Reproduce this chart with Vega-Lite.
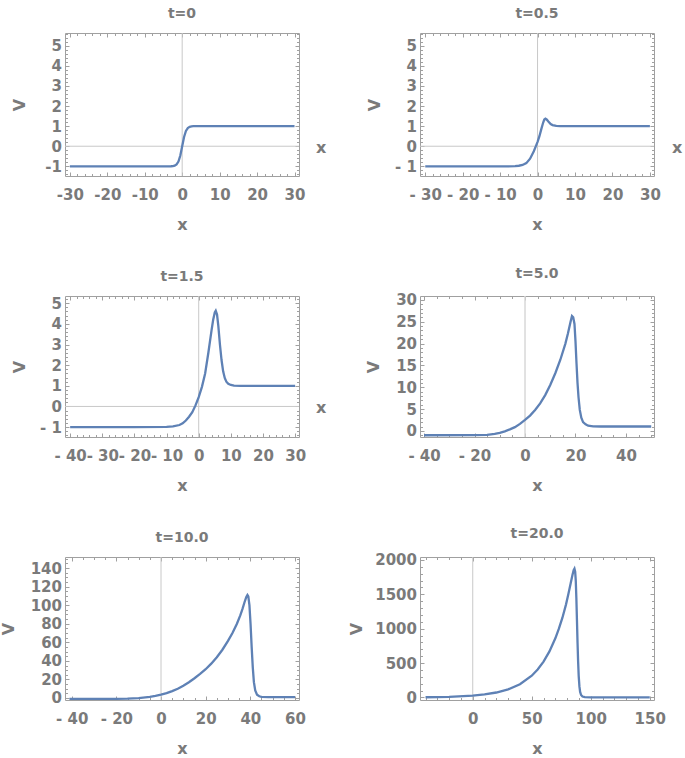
{
  "$schema": "https://vega.github.io/schema/vega-lite/v6.json",
  "padding": {"left": -1, "top": 6, "right": 2, "bottom": 2},
  "background": "white",
  "config": {
    "view": {"stroke": "#a0a0a0", "strokeWidth": 1},
    "axis": {
      "labelFont": "DejaVu Sans", "labelFontSize": 15, "labelFontWeight": "bold", "labelColor": "#7a7a7a",
      "titleFont": "DejaVu Sans", "titleFontSize": 16, "titleFontWeight": "bold", "titleColor": "#7a7a7a",
      "domain": false, "grid": false, "tickColor": "#a0a0a0", "tickWidth": 1,
      "labelFlush": false, "labelOverlap": false
    },
    "axisX": {"titlePadding": 14, "labelPadding": 15},
    "axisY": {"titlePadding": 15, "labelPadding": 7.5},
    "title": {"font": "DejaVu Sans", "fontSize": 14, "fontWeight": "bold", "color": "#7a7a7a", "offset": 12},
    "text": {"font": "DejaVu Sans", "fontSize": 16, "fontWeight": "bold", "color": "#7a7a7a"}
  },
  "datasets": {
    "p1": [
      {"x": -30, "v": -1}, {"x": -10, "v": -1}, {"x": -5, "v": -0.9999}, {"x": -4, "v": -0.999}, {"x": -3, "v": -0.995},
      {"x": -2.5, "v": -0.987}, {"x": -2, "v": -0.964}, {"x": -1.5, "v": -0.905}, {"x": -1, "v": -0.762}, {"x": -0.5, "v": -0.462},
      {"x": 0, "v": 0}, {"x": 0.5, "v": 0.462}, {"x": 1, "v": 0.762}, {"x": 1.5, "v": 0.905}, {"x": 2, "v": 0.964},
      {"x": 2.5, "v": 0.987}, {"x": 3, "v": 0.995}, {"x": 4, "v": 0.999}, {"x": 5, "v": 1}, {"x": 10, "v": 1}, {"x": 30, "v": 1}
    ],
    "p2": [
      {"x": -30, "v": -1}, {"x": -8, "v": -1}, {"x": -6, "v": -0.99}, {"x": -5, "v": -0.97}, {"x": -4, "v": -0.93},
      {"x": -3, "v": -0.84}, {"x": -2, "v": -0.62}, {"x": -1, "v": -0.25}, {"x": -0.5, "v": -0.02}, {"x": 0, "v": 0.22},
      {"x": 0.5, "v": 0.5}, {"x": 1, "v": 0.85}, {"x": 1.5, "v": 1.18}, {"x": 1.8, "v": 1.33}, {"x": 2.1, "v": 1.37},
      {"x": 2.5, "v": 1.32}, {"x": 3, "v": 1.2}, {"x": 3.5, "v": 1.1}, {"x": 4, "v": 1.05}, {"x": 5, "v": 1.01},
      {"x": 6, "v": 1}, {"x": 30, "v": 1}
    ],
    "p3": [
      {"x": -40, "v": -1}, {"x": -20, "v": -1}, {"x": -10, "v": -0.99}, {"x": -8, "v": -0.97}, {"x": -6, "v": -0.9},
      {"x": -5, "v": -0.82}, {"x": -4, "v": -0.68}, {"x": -3, "v": -0.5}, {"x": -2, "v": -0.28}, {"x": -1, "v": 0.05},
      {"x": 0, "v": 0.45}, {"x": 1, "v": 0.95}, {"x": 2, "v": 1.6}, {"x": 3, "v": 2.6}, {"x": 4, "v": 3.7},
      {"x": 4.5, "v": 4.2}, {"x": 5, "v": 4.55}, {"x": 5.3, "v": 4.63}, {"x": 5.7, "v": 4.45}, {"x": 6.1, "v": 3.9},
      {"x": 6.6, "v": 3.0}, {"x": 7.1, "v": 2.25}, {"x": 7.6, "v": 1.7}, {"x": 8.1, "v": 1.38}, {"x": 8.6, "v": 1.2},
      {"x": 9.2, "v": 1.1}, {"x": 10, "v": 1.04}, {"x": 11, "v": 1.01}, {"x": 13, "v": 1}, {"x": 30, "v": 1}
    ],
    "p4": [
      {"x": -40, "v": -1}, {"x": -20, "v": -0.98}, {"x": -15, "v": -0.9}, {"x": -12, "v": -0.7}, {"x": -10, "v": -0.45},
      {"x": -8, "v": -0.1}, {"x": -6, "v": 0.35}, {"x": -4, "v": 0.85}, {"x": -2, "v": 1.6}, {"x": 0, "v": 2.5},
      {"x": 2, "v": 3.5}, {"x": 4, "v": 4.8}, {"x": 6, "v": 6.3}, {"x": 8, "v": 8.2}, {"x": 10, "v": 10.5},
      {"x": 12, "v": 13.2}, {"x": 14, "v": 16.3}, {"x": 16, "v": 20.0}, {"x": 17, "v": 22.3}, {"x": 18, "v": 24.9},
      {"x": 18.6, "v": 26.3}, {"x": 19.1, "v": 26.0}, {"x": 19.6, "v": 24.5}, {"x": 20.0, "v": 20.5}, {"x": 20.4, "v": 15.5},
      {"x": 20.8, "v": 11}, {"x": 21.2, "v": 7.7}, {"x": 21.7, "v": 4.8}, {"x": 22.3, "v": 3.0}, {"x": 23, "v": 2.0},
      {"x": 24, "v": 1.5}, {"x": 25, "v": 1.2}, {"x": 27, "v": 1.05}, {"x": 30, "v": 1}, {"x": 50, "v": 1}
    ],
    "p5": [
      {"x": -41, "v": -1}, {"x": -20, "v": -0.95}, {"x": -15, "v": -0.7}, {"x": -10, "v": -0.1}, {"x": -5, "v": 1.2},
      {"x": -2.5, "v": 2.2}, {"x": 0, "v": 3.5}, {"x": 2.5, "v": 5.2}, {"x": 5, "v": 7.4}, {"x": 7.5, "v": 10.0},
      {"x": 10, "v": 13.2}, {"x": 12.5, "v": 17}, {"x": 15, "v": 21.3}, {"x": 17.5, "v": 26}, {"x": 20, "v": 31},
      {"x": 22.5, "v": 37}, {"x": 25, "v": 44}, {"x": 27.5, "v": 52}, {"x": 30, "v": 61.5}, {"x": 32, "v": 70},
      {"x": 34, "v": 80}, {"x": 35.5, "v": 89}, {"x": 36.5, "v": 96}, {"x": 37.5, "v": 104}, {"x": 38.2, "v": 109},
      {"x": 38.7, "v": 111}, {"x": 39.1, "v": 109.5}, {"x": 39.6, "v": 100}, {"x": 40.1, "v": 80}, {"x": 40.6, "v": 55},
      {"x": 41.1, "v": 33}, {"x": 41.6, "v": 17}, {"x": 42.2, "v": 8}, {"x": 43, "v": 3.5}, {"x": 44, "v": 1.8},
      {"x": 45, "v": 1.2}, {"x": 48, "v": 1.0}, {"x": 60, "v": 1.0}
    ],
    "p6": [
      {"x": -40, "v": 2}, {"x": -20, "v": 8}, {"x": 0, "v": 26}, {"x": 10, "v": 43}, {"x": 20, "v": 71},
      {"x": 30, "v": 116}, {"x": 40, "v": 192}, {"x": 50, "v": 316}, {"x": 55, "v": 406}, {"x": 60, "v": 521},
      {"x": 65, "v": 669}, {"x": 70, "v": 860}, {"x": 73, "v": 1000}, {"x": 76, "v": 1160}, {"x": 79, "v": 1350},
      {"x": 81, "v": 1500}, {"x": 83, "v": 1660}, {"x": 84.5, "v": 1780}, {"x": 85.5, "v": 1850}, {"x": 86.2, "v": 1872},
      {"x": 86.8, "v": 1830}, {"x": 87.3, "v": 1700}, {"x": 87.8, "v": 1450}, {"x": 88.3, "v": 1130}, {"x": 88.8, "v": 800},
      {"x": 89.3, "v": 520}, {"x": 89.8, "v": 310}, {"x": 90.4, "v": 160}, {"x": 91, "v": 80}, {"x": 91.8, "v": 35},
      {"x": 93, "v": 12}, {"x": 95, "v": 4}, {"x": 100, "v": 1}, {"x": 150, "v": 1}
    ]
  },
  "columns": 2,
  "bounds": "flush",
  "spacing": {"row": 120, "column": 121},
  "concat": [
    {
      "width": 234, "height": 143, "title": "t=0",
      "resolve": {"axis": {"x": "independent", "y": "independent"}},
      "layer": [
        {"data": {"values": [{}]}, "mark": {"type": "rule", "color": "#c8c8c8", "strokeWidth": 1}, "encoding": {"x": {"datum": 0, "type": "quantitative", "axis": null}}},
        {"data": {"values": [{}]}, "mark": {"type": "rule", "color": "#c8c8c8", "strokeWidth": 1}, "encoding": {"y": {"datum": 0, "type": "quantitative", "axis": null}}},
        {"data": {"name": "p1"}, "mark": {"type": "line", "color": "#5E81B5", "strokeWidth": 2.3},
         "encoding": {
           "x": {"field": "x", "type": "quantitative", "scale": {"domain": [-31.3, 31.2], "nice": false, "zero": false},
                 "axis": {"orient": "bottom", "values": [-30, -20, -10, 0, 10, 20, 30], "title": "x", "tickSize": -4, "labelExpr": "replace(datum.label, '−', '-')"}},
           "y": {"field": "v", "type": "quantitative", "scale": {"domain": [-1.48, 5.63], "nice": false, "zero": false},
                 "axis": {"orient": "left", "values": [-1, 0, 1, 2, 3, 4, 5], "title": "V", "titlePadding": 17, "tickSize": -4, "labelExpr": "replace(datum.label, '−', '-')"}}}},
        {"data": {"name": "p1"}, "mark": {"type": "line", "opacity": 0},
         "encoding": {
           "x": {"field": "x", "type": "quantitative", "axis": {"orient": "top", "values": [-30, -20, -10, 0, 10, 20, 30], "labels": false, "title": null, "tickSize": -4}},
           "y": {"field": "v", "type": "quantitative", "axis": {"orient": "right", "values": [-1, 0, 1, 2, 3, 4, 5], "labels": false, "title": null, "tickSize": -4}}}},
        {"data": {"name": "p1"}, "mark": {"type": "line", "opacity": 0},
         "encoding": {
           "x": {"field": "x", "type": "quantitative", "axis": {"orient": "bottom", "tickCount": 30, "labels": false, "title": null, "tickSize": -2.5}},
           "y": {"field": "v", "type": "quantitative", "axis": {"orient": "left", "tickCount": 35, "labels": false, "title": null, "tickSize": -2.5}}}},
        {"data": {"name": "p1"}, "mark": {"type": "line", "opacity": 0},
         "encoding": {
           "x": {"field": "x", "type": "quantitative", "axis": {"orient": "top", "tickCount": 30, "labels": false, "title": null, "tickSize": -2.5}},
           "y": {"field": "v", "type": "quantitative", "axis": {"orient": "right", "tickCount": 35, "labels": false, "title": null, "tickSize": -2.5}}}},
        {"data": {"values": [{}]}, "mark": {"type": "text", "text": "x", "align": "left", "baseline": "middle", "dx": 17, "dy": 2},
         "encoding": {"x": {"datum": 31.2, "type": "quantitative", "axis": null}, "y": {"datum": 0, "type": "quantitative", "axis": null}}}
      ]
    },
    {
      "width": 234, "height": 143, "title": "t=0.5",
      "resolve": {"axis": {"x": "independent", "y": "independent"}},
      "layer": [
        {"data": {"values": [{}]}, "mark": {"type": "rule", "color": "#c8c8c8", "strokeWidth": 1}, "encoding": {"x": {"datum": 0, "type": "quantitative", "axis": null}}},
        {"data": {"values": [{}]}, "mark": {"type": "rule", "color": "#c8c8c8", "strokeWidth": 1}, "encoding": {"y": {"datum": 0, "type": "quantitative", "axis": null}}},
        {"data": {"name": "p2"}, "mark": {"type": "line", "color": "#5E81B5", "strokeWidth": 2.3},
         "encoding": {
           "x": {"field": "x", "type": "quantitative", "scale": {"domain": [-31.4, 31.1], "nice": false, "zero": false},
                 "axis": {"orient": "bottom", "values": [-30, -20, -10, 0, 10, 20, 30], "title": "x", "tickSize": -4, "labelExpr": "datum.value < 0 ? '- ' + (-datum.value) : datum.label"}},
           "y": {"field": "v", "type": "quantitative", "scale": {"domain": [-1.48, 5.63], "nice": false, "zero": false},
                 "axis": {"orient": "left", "values": [-1, 0, 1, 2, 3, 4, 5], "title": "V", "titlePadding": 12, "tickSize": -4, "labelExpr": "datum.value < 0 ? '- ' + (-datum.value) : datum.label"}}}},
        {"data": {"name": "p2"}, "mark": {"type": "line", "opacity": 0},
         "encoding": {
           "x": {"field": "x", "type": "quantitative", "axis": {"orient": "top", "values": [-30, -20, -10, 0, 10, 20, 30], "labels": false, "title": null, "tickSize": -4}},
           "y": {"field": "v", "type": "quantitative", "axis": {"orient": "right", "values": [-1, 0, 1, 2, 3, 4, 5], "labels": false, "title": null, "tickSize": -4}}}},
        {"data": {"name": "p2"}, "mark": {"type": "line", "opacity": 0},
         "encoding": {
           "x": {"field": "x", "type": "quantitative", "axis": {"orient": "bottom", "tickCount": 30, "labels": false, "title": null, "tickSize": -2.5}},
           "y": {"field": "v", "type": "quantitative", "axis": {"orient": "left", "tickCount": 35, "labels": false, "title": null, "tickSize": -2.5}}}},
        {"data": {"name": "p2"}, "mark": {"type": "line", "opacity": 0},
         "encoding": {
           "x": {"field": "x", "type": "quantitative", "axis": {"orient": "top", "tickCount": 30, "labels": false, "title": null, "tickSize": -2.5}},
           "y": {"field": "v", "type": "quantitative", "axis": {"orient": "right", "tickCount": 35, "labels": false, "title": null, "tickSize": -2.5}}}},
        {"data": {"values": [{}]}, "mark": {"type": "text", "text": "x", "align": "left", "baseline": "middle", "dx": 18, "dy": 2},
         "encoding": {"x": {"datum": 31.1, "type": "quantitative", "axis": null}, "y": {"datum": 0, "type": "quantitative", "axis": null}}}
      ]
    },
    {
      "width": 234, "height": 141, "title": "t=1.5",
      "resolve": {"axis": {"x": "independent", "y": "independent"}},
      "layer": [
        {"data": {"values": [{}]}, "mark": {"type": "rule", "color": "#c8c8c8", "strokeWidth": 1}, "encoding": {"x": {"datum": 0, "type": "quantitative", "axis": null}}},
        {"data": {"values": [{}]}, "mark": {"type": "rule", "color": "#c8c8c8", "strokeWidth": 1}, "encoding": {"y": {"datum": 0, "type": "quantitative", "axis": null}}},
        {"data": {"name": "p3"}, "mark": {"type": "line", "color": "#5E81B5", "strokeWidth": 2.3},
         "encoding": {
           "x": {"field": "x", "type": "quantitative", "scale": {"domain": [-41.6, 31.2], "nice": false, "zero": false},
                 "axis": {"orient": "bottom", "values": [-40, -30, -20, -10, 0, 10, 20, 30], "title": "x", "tickSize": -4, "labelExpr": "datum.value < 0 ? '- ' + (-datum.value) : datum.label"}},
           "y": {"field": "v", "type": "quantitative", "scale": {"domain": [-1.48, 5.35], "nice": false, "zero": false},
                 "axis": {"orient": "left", "values": [-1, 0, 1, 2, 3, 4, 5], "title": "V", "titlePadding": 12, "tickSize": -4, "labelExpr": "datum.value < 0 ? '- ' + (-datum.value) : datum.label"}}}},
        {"data": {"name": "p3"}, "mark": {"type": "line", "opacity": 0},
         "encoding": {
           "x": {"field": "x", "type": "quantitative", "axis": {"orient": "top", "values": [-40, -30, -20, -10, 0, 10, 20, 30], "labels": false, "title": null, "tickSize": -4}},
           "y": {"field": "v", "type": "quantitative", "axis": {"orient": "right", "values": [-1, 0, 1, 2, 3, 4, 5], "labels": false, "title": null, "tickSize": -4}}}},
        {"data": {"name": "p3"}, "mark": {"type": "line", "opacity": 0},
         "encoding": {
           "x": {"field": "x", "type": "quantitative", "axis": {"orient": "bottom", "tickCount": 35, "labels": false, "title": null, "tickSize": -2.5}},
           "y": {"field": "v", "type": "quantitative", "axis": {"orient": "left", "tickCount": 34, "labels": false, "title": null, "tickSize": -2.5}}}},
        {"data": {"name": "p3"}, "mark": {"type": "line", "opacity": 0},
         "encoding": {
           "x": {"field": "x", "type": "quantitative", "axis": {"orient": "top", "tickCount": 35, "labels": false, "title": null, "tickSize": -2.5}},
           "y": {"field": "v", "type": "quantitative", "axis": {"orient": "right", "tickCount": 34, "labels": false, "title": null, "tickSize": -2.5}}}},
        {"data": {"values": [{}]}, "mark": {"type": "text", "text": "x", "align": "left", "baseline": "middle", "dx": 17, "dy": 2},
         "encoding": {"x": {"datum": 31.2, "type": "quantitative", "axis": null}, "y": {"datum": 0, "type": "quantitative", "axis": null}}}
      ]
    },
    {
      "width": 234, "height": 141, "title": "t=5.0",
      "resolve": {"axis": {"x": "independent", "y": "independent"}},
      "layer": [
        {"data": {"values": [{}]}, "mark": {"type": "rule", "color": "#d8d8d8", "strokeWidth": 1.5}, "encoding": {"x": {"datum": 0, "type": "quantitative", "axis": null}}},
        {"data": {"name": "p4"}, "mark": {"type": "line", "color": "#5E81B5", "strokeWidth": 2.3},
         "encoding": {
           "x": {"field": "x", "type": "quantitative", "scale": {"domain": [-41.6, 51.1], "nice": false, "zero": false},
                 "axis": {"orient": "bottom", "values": [-40, -20, 0, 20, 40], "title": "x", "tickSize": -4, "labelExpr": "datum.value < 0 ? '- ' + (-datum.value) : datum.label"}},
           "y": {"field": "v", "type": "quantitative", "scale": {"domain": [-1.4, 30.9], "nice": false, "zero": false},
                 "axis": {"orient": "left", "values": [0, 5, 10, 15, 20, 25, 30], "title": "V", "titlePadding": 14, "tickSize": -4}}}},
        {"data": {"name": "p4"}, "mark": {"type": "line", "opacity": 0},
         "encoding": {
           "x": {"field": "x", "type": "quantitative", "axis": {"orient": "top", "values": [-40, -20, 0, 20, 40], "labels": false, "title": null, "tickSize": -4}},
           "y": {"field": "v", "type": "quantitative", "axis": {"orient": "right", "values": [0, 5, 10, 15, 20, 25, 30], "labels": false, "title": null, "tickSize": -4}}}},
        {"data": {"name": "p4"}, "mark": {"type": "line", "opacity": 0},
         "encoding": {
           "x": {"field": "x", "type": "quantitative", "axis": {"orient": "bottom", "tickCount": 20, "labels": false, "title": null, "tickSize": -2.5}},
           "y": {"field": "v", "type": "quantitative", "axis": {"orient": "left", "tickCount": 32, "labels": false, "title": null, "tickSize": -2.5}}}},
        {"data": {"name": "p4"}, "mark": {"type": "line", "opacity": 0},
         "encoding": {
           "x": {"field": "x", "type": "quantitative", "axis": {"orient": "top", "tickCount": 20, "labels": false, "title": null, "tickSize": -2.5}},
           "y": {"field": "v", "type": "quantitative", "axis": {"orient": "right", "tickCount": 32, "labels": false, "title": null, "tickSize": -2.5}}}}
      ]
    },
    {
      "width": 234, "height": 143, "title": "t=10.0",
      "resolve": {"axis": {"x": "independent", "y": "independent"}},
      "layer": [
        {"data": {"values": [{}]}, "mark": {"type": "rule", "color": "#c8c8c8", "strokeWidth": 1}, "encoding": {"x": {"datum": 0, "type": "quantitative", "axis": null}}},
        {"data": {"name": "p5"}, "mark": {"type": "line", "color": "#5E81B5", "strokeWidth": 2.3},
         "encoding": {
           "x": {"field": "x", "type": "quantitative", "scale": {"domain": [-43, 61.8], "nice": false, "zero": false},
                 "axis": {"orient": "bottom", "values": [-40, -20, 0, 20, 40, 60], "title": "x", "tickSize": -4, "labelExpr": "datum.value < 0 ? '- ' + (-datum.value) : datum.label"}},
           "y": {"field": "v", "type": "quantitative", "scale": {"domain": [-2.2, 152], "nice": false, "zero": false},
                 "axis": {"orient": "left", "values": [0, 20, 40, 60, 80, 100, 120, 140], "title": "V", "titlePadding": 14, "tickSize": -4}}}},
        {"data": {"name": "p5"}, "mark": {"type": "line", "opacity": 0},
         "encoding": {
           "x": {"field": "x", "type": "quantitative", "axis": {"orient": "top", "values": [-40, -20, 0, 20, 40, 60], "labels": false, "title": null, "tickSize": -4}},
           "y": {"field": "v", "type": "quantitative", "axis": {"orient": "right", "values": [0, 20, 40, 60, 80, 100, 120, 140], "labels": false, "title": null, "tickSize": -4}}}},
        {"data": {"name": "p5"}, "mark": {"type": "line", "opacity": 0},
         "encoding": {
           "x": {"field": "x", "type": "quantitative", "axis": {"orient": "bottom", "tickCount": 22, "labels": false, "title": null, "tickSize": -2.5}},
           "y": {"field": "v", "type": "quantitative", "axis": {"orient": "left", "tickCount": 32, "labels": false, "title": null, "tickSize": -2.5}}}},
        {"data": {"name": "p5"}, "mark": {"type": "line", "opacity": 0},
         "encoding": {
           "x": {"field": "x", "type": "quantitative", "axis": {"orient": "top", "tickCount": 22, "labels": false, "title": null, "tickSize": -2.5}},
           "y": {"field": "v", "type": "quantitative", "axis": {"orient": "right", "tickCount": 32, "labels": false, "title": null, "tickSize": -2.5}}}}
      ]
    },
    {
      "width": 234, "height": 143, "title": "t=20.0",
      "resolve": {"axis": {"x": "independent", "y": "independent"}},
      "layer": [
        {"data": {"values": [{}]}, "mark": {"type": "rule", "color": "#c8c8c8", "strokeWidth": 1}, "encoding": {"x": {"datum": 0, "type": "quantitative", "axis": null}}},
        {"data": {"name": "p6"}, "mark": {"type": "line", "color": "#5E81B5", "strokeWidth": 2.3},
         "encoding": {
           "x": {"field": "x", "type": "quantitative", "scale": {"domain": [-44.7, 153.6], "nice": false, "zero": false},
                 "axis": {"orient": "bottom", "values": [0, 50, 100, 150], "title": "x", "tickSize": -4}},
           "y": {"field": "v", "type": "quantitative", "scale": {"domain": [-38, 2043], "nice": false, "zero": false},
                 "axis": {"orient": "left", "values": [0, 500, 1000, 1500, 2000], "title": "V", "titlePadding": 10, "tickSize": -4, "format": "d"}}}},
        {"data": {"name": "p6"}, "mark": {"type": "line", "opacity": 0},
         "encoding": {
           "x": {"field": "x", "type": "quantitative", "axis": {"orient": "top", "values": [0, 50, 100, 150], "labels": false, "title": null, "tickSize": -4}},
           "y": {"field": "v", "type": "quantitative", "axis": {"orient": "right", "values": [0, 500, 1000, 1500, 2000], "labels": false, "title": null, "tickSize": -4}}}},
        {"data": {"name": "p6"}, "mark": {"type": "line", "opacity": 0},
         "encoding": {
           "x": {"field": "x", "type": "quantitative", "axis": {"orient": "bottom", "tickCount": 20, "labels": false, "title": null, "tickSize": -2.5}},
           "y": {"field": "v", "type": "quantitative", "axis": {"orient": "left", "tickCount": 20, "labels": false, "title": null, "tickSize": -2.5}}}},
        {"data": {"name": "p6"}, "mark": {"type": "line", "opacity": 0},
         "encoding": {
           "x": {"field": "x", "type": "quantitative", "axis": {"orient": "top", "tickCount": 20, "labels": false, "title": null, "tickSize": -2.5}},
           "y": {"field": "v", "type": "quantitative", "axis": {"orient": "right", "tickCount": 20, "labels": false, "title": null, "tickSize": -2.5}}}}
      ]
    }
  ]
}
